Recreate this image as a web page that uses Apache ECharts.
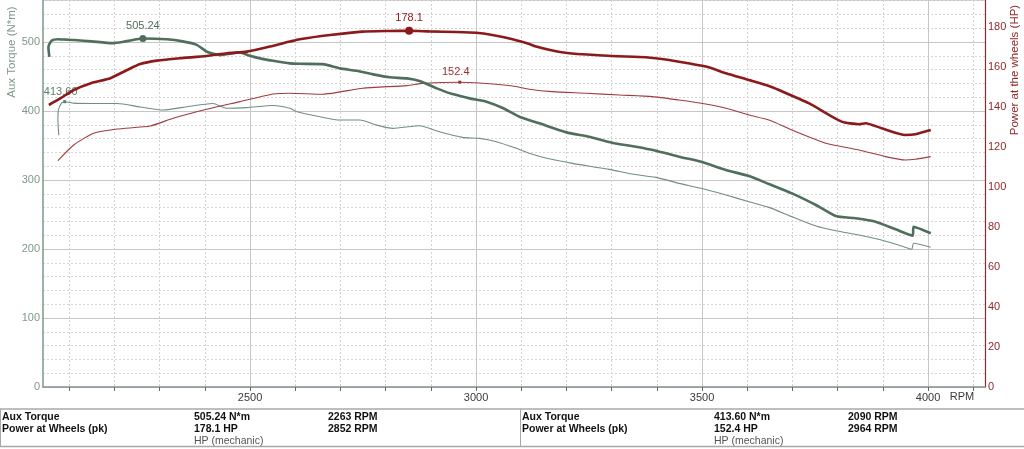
<!DOCTYPE html>
<html><head><meta charset="utf-8">
<script src="https://cdn.jsdelivr.net/npm/echarts@6/dist/echarts.min.js"></script>
<style>html,body{margin:0;padding:0;background:#fff}#c{width:1024px;height:449px}</style>
</head><body><div id="c"></div>
<script>
// ---- Data ----
const torque1Rpm = [2056,2054,2061,2075,2093,2112,2150,2195,2224,2263,2316,2351,2382,2405,2434,2478,2496,2522,2551,2588,2610,2661,2699,2736,2772,2809,2847,2875,2913,2948,2986,3023,3059,3096,3140,3200,3250,3301,3354,3398,3449,3498,3553,3604,3648,3699,3752,3796,3840,3884,3928,3966,3968,4006];
const torque1Nm = [478.6,493,502,504,503.5,503,501,498.5,501,505.24,504,501,496,486,481,485,481,476.4,472.9,469.1,468.5,468,461.9,458.4,453.2,448.9,447.4,443.5,432.9,424.6,418.4,413.5,404.4,391.7,382.2,369.1,362.8,354.1,348.3,342.5,333.8,326.5,314.5,305.8,294.2,280.7,263.8,247.8,244.5,239.6,228.6,219.3,232.3,222.8];

const torque2Rpm = [2077,2075,2076,2083,2090,2110,2148,2206,2257,2308,2352,2418,2449,2493,2551,2588,2604,2655,2699,2743,2780,2816,2875,2919,2970,3008,3045,3089,3118,3156,3213,3295,3345,3398,3449,3498,3553,3604,3648,3699,3752,3796,3847,3897,3941,3964,3968,4006];
const torque2Nm = [365,387,401.5,411.6,413.6,411.5,411,411,406,401.5,405.4,411,404,405,408,404,399,391.7,387,387,379.7,374.9,378.7,370,361.9,360.4,355.5,346,338.7,331.5,324.2,315.5,308.7,303.9,295.2,288,278.3,268.6,260.4,246.8,233.3,226.5,220.3,213,204.4,199.6,208.3,202.5];

const power1Rpm = [2055,2081,2110,2148,2191,2228,2257,2294,2345,2404,2449,2493,2544,2588,2610,2677,2749,2809,2852,2897,2956,3000,3036,3081,3118,3133,3169,3206,3301,3376,3427,3478,3509,3553,3604,3648,3670,3736,3809,3847,3862,3897,3950,3972,4006];
const power1Hp = [141,144.4,148.5,151.9,154.4,158.5,161.5,163.2,164.4,165.5,166.9,167.7,170.2,172.7,173.9,176,177.7,178,178.1,177.8,177.5,177.1,176,173.9,171.5,170.2,168.2,166.9,165.5,164.9,163.5,161.5,160.2,156.9,153.5,150.5,148.5,141.9,132.7,131.4,131.9,129.4,126,126.4,128.5];

const power2Rpm = [2075,2110,2154,2206,2279,2330,2404,2478,2551,2588,2661,2749,2847,2882,2964,3008,3081,3118,3169,3244,3317,3390,3449,3498,3553,3604,3648,3699,3774,3847,3906,3950,3972,4006];
const power2Hp = [113.2,121,126.9,129,130.5,134.4,138.9,142.7,146.5,146.9,146.4,149.4,150.7,151.8,152.4,152,150.5,148.9,147.7,146.9,146,145.2,143.5,141.9,139.4,136,133.5,128.5,121.9,118.5,115.2,113.5,113.9,115.2];

// peaks: [rpm, value, label]
const peakTorque1 = [2263, 505.24, '505.24'];
const peakPower1 = [2852, 178.1, '178.1'];
const peakTorque2 = [2090, 413.60, '413.60'];
const peakPower2 = [2964, 152.4, '152.4'];

const rpmLabelTicks = [2500, 3000, 3500, 4000];
const rpmMinorTicks = [2100,2200,2300,2400,2500,2600,2700,2800,2900,3000,3100,3200,3300,3400,3500,3600,3700,3800,3900,4000,4100];

// summary table rows
const tableLeft = [['Aux Torque','505.24 N*m','2263 RPM'],['Power at Wheels (pk)','178.1 HP','2852 RPM'],['','HP (mechanic)','']];
const tableRight = [['Aux Torque','413.60 N*m','2090 RPM'],['Power at Wheels (pk)','152.4 HP','2964 RPM'],['','HP (mechanic)','']];

// ---- Chart ----
const zip = (a, b) => a.map((v, i) => [v, b[i]]);
const FONT = '"Liberation Sans", Arial, sans-serif';
const GREEN_AX = '#7f9889';
const RED_AX = '#8e2a2a';

const chart = echarts.init(document.getElementById('c'), null, {renderer: 'canvas'});

function peakMark(p, color, symbol, size, offset) {
  return {
    symbol: symbol, symbolSize: size, animation: false,
    itemStyle: {color: color},
    label: {show: true, position: 'top', distance: 3, color: color, fontSize: 11, fontFamily: FONT, formatter: p[2], offset: offset},
    data: [{coord: [p[0], p[1]]}]
  };
}

const tableGraphics = [];
const rowsY = [417.5, 429.5, 441];
function addTable(rows, x0) {
  const cols = [x0 + 2, x0 + 194, x0 + 328];
  rows.forEach((r, ri) => {
    r.forEach((t, ci) => {
      if (!t) return;
      const light = ri === 2;
      tableGraphics.push({type: 'text', silent: true, style: {
        text: t, x: cols[ci], y: rowsY[ri], textVerticalAlign: 'middle', textAlign: 'left',
        font: (light ? 'normal ' : 'bold ') + '10.5px ' + FONT, fill: light ? '#555' : '#111'
      }});
    });
  });
}
addTable(tableLeft, 0);
addTable(tableRight, 520);

const option = {
  animation: false,
  backgroundColor: '#fff',
  grid: {left: 43, right: 39, top: 0, bottom: 62, show: false},
  xAxis: [
    {type: 'value', min: 2042, max: 4126, position: 'bottom',
     axisLine: {show: true, onZero: false, lineStyle: {color: GREEN_AX, width: 1.5}},
     axisTick: {show: true, customValues: rpmMinorTicks, length: 4, lineStyle: {color: '#666'}},
     axisLabel: {customValues: rpmLabelTicks, color: '#3a3a3a', fontSize: 11, fontFamily: FONT, margin: 5, formatter: v => String(v)},
     splitLine: {show: true, lineStyle: {color: '#d2d2d2', type: [2, 2], width: 1}}},
    {type: 'value', min: 2042, max: 4126, position: 'bottom',
     axisLine: {show: false}, axisTick: {show: false, customValues: rpmLabelTicks},
     axisLabel: {show: false},
     splitLine: {show: true, lineStyle: {color: '#c6c6c6', width: 1}}}
  ],
  yAxis: [
    {type: 'value', min: 0, max: 561, interval: 100, position: 'left',
     axisLine: {show: true, lineStyle: {color: GREEN_AX, width: 1.5}},
     axisTick: {show: false},
     axisLabel: {color: GREEN_AX, fontSize: 11, fontFamily: FONT, margin: 3, showMaxLabel: false},
     splitLine: {show: true, lineStyle: {color: '#c6c6c6', width: 1}},
     minorTick: {show: false, splitNumber: 5},
     minorSplitLine: {show: true, lineStyle: {color: '#d6d6d6', type: [2, 2], width: 1}}},
    {type: 'value', min: 0, max: 193.5, interval: 20, position: 'right',
     axisLine: {show: true, lineStyle: {color: RED_AX, width: 1.2}},
     axisTick: {show: false},
     axisLabel: {color: RED_AX, fontSize: 11, fontFamily: FONT, margin: 3, showMaxLabel: false},
     splitLine: {show: false}}
  ],
  series: [
    {name: 'Aux Torque 2', type: 'line', xAxisIndex: 0, yAxisIndex: 0, data: zip(torque2Rpm, torque2Nm),
     showSymbol: false, smooth: 0.2, lineStyle: {color: '#718f80', width: 1.1}, z: 3,
     markPoint: peakMark(peakTorque2, '#5f7d6d', 'rect', 3, [-4, 0])},
    {name: 'Power 2', type: 'line', xAxisIndex: 0, yAxisIndex: 1, data: zip(power2Rpm, power2Hp),
     showSymbol: false, smooth: 0.2, lineStyle: {color: '#a03c3c', width: 1.1}, z: 3,
     markPoint: peakMark(peakPower2, '#962f2f', 'rect', 3, [-4, 0])},
    {name: 'Aux Torque 1', type: 'line', xAxisIndex: 0, yAxisIndex: 0, data: zip(torque1Rpm, torque1Nm),
     showSymbol: false, smooth: 0.2, lineStyle: {color: '#4f6e5c', width: 2.6}, z: 4,
     markPoint: peakMark(peakTorque1, '#4f6e5c', 'circle', 7, [0, 0])},
    {name: 'Power 1', type: 'line', xAxisIndex: 0, yAxisIndex: 1, data: zip(power1Rpm, power1Hp),
     showSymbol: false, smooth: 0.2, lineStyle: {color: '#8c1a1a', width: 2.6}, z: 5,
     markPoint: peakMark(peakPower1, '#8c1a1a', 'circle', 8, [0, 0])}
  ],
  graphic: [
    {type: 'line', silent: true, shape: {x1: 43, y1: 0.5, x2: 985, y2: 0.5}, style: {stroke: '#bdbdbd', lineWidth: 1}},
    {type: 'text', silent: true, x: 12, y: 52, rotation: Math.PI / 2, style: {text: 'Aux Torque (N*m)', textAlign: 'center', textVerticalAlign: 'middle', font: '11.5px ' + FONT, fill: GREEN_AX}},
    {type: 'text', silent: true, x: 1015, y: 70, rotation: Math.PI / 2, style: {text: 'Power at the wheels (HP)', textAlign: 'center', textVerticalAlign: 'middle', font: '11.5px ' + FONT, fill: RED_AX}},
    {type: 'text', silent: true, style: {text: 'RPM', x: 962, y: 397, textAlign: 'center', textVerticalAlign: 'middle', font: '11px ' + FONT, fill: '#3a3a3a'}},
    {type: 'line', silent: true, shape: {x1: 0, y1: 409, x2: 1024, y2: 409}, style: {stroke: '#a8a8a8', lineWidth: 1.5}},
    {type: 'line', silent: true, shape: {x1: 0, y1: 446.5, x2: 1024, y2: 446.5}, style: {stroke: '#a8a8a8', lineWidth: 1.5}},
    {type: 'line', silent: true, shape: {x1: 0.5, y1: 409, x2: 0.5, y2: 446.5}, style: {stroke: '#a8a8a8', lineWidth: 1}},
    {type: 'line', silent: true, shape: {x1: 520.5, y1: 409, x2: 520.5, y2: 446.5}, style: {stroke: '#a8a8a8', lineWidth: 1}}
  ].concat(tableGraphics)
};
chart.setOption(option);
</script>
</body></html>
